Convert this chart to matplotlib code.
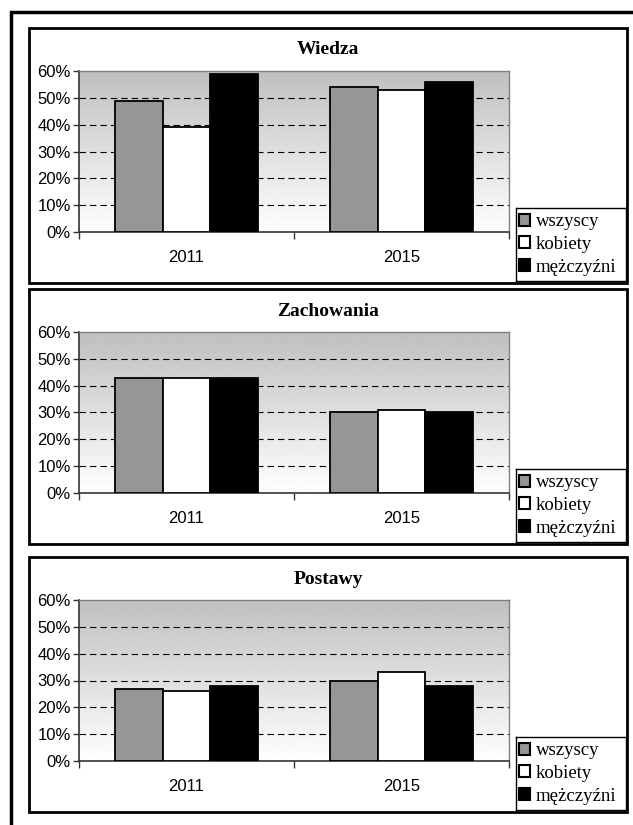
import numpy as np
import matplotlib
matplotlib.use('Agg')
import matplotlib.pyplot as plt
import matplotlib.patches as patches

# Data
years = ['2011', '2015']
series = ['wszyscy', 'kobiety', 'mężczyźni']
colors = ['#969696', '#ffffff', '#000000']
titles = ['Wiedza', 'Zachowania', 'Postawy']

# values per series: [2011, 2015]
wiedza = [[49, 54], [39, 53], [59, 56]]
zachowania = [[43, 30], [43, 31], [43, 30]]
postawy = [[27, 30], [26, 33], [28, 28]]
y_ticks = [0, 10, 20, 30, 40, 50, 60]

W, H = 633, 825


def fig_rect(x0, y0, x1, y1):
    # pixel box (top-left origin) -> figure fraction rect
    return [x0 / W, 1 - y1 / H, (x1 - x0) / W, (y1 - y0) / H]


def draw_panel(fig, top, title, values):
    # Panel border
    fig.add_artist(patches.Rectangle((29 / W, 1 - (top + 255) / H), (627 - 29) / W, 255 / H,
                                     transform=fig.transFigure, fill=False,
                                     linewidth=2, edgecolor='black'))

    fig.text(328 / W, 1 - (top + 22) / H, title, ha='center', va='center',
             family='Liberation Serif', weight='bold', fontsize=14)

    ax = fig.add_axes(fig_rect(79, top + 43, 509, top + 204))

    # Gradient background
    grad = np.linspace(0.75, 1.0, 256).reshape(-1, 1)
    ax.imshow(grad, cmap='gray', vmin=0, vmax=1, aspect='auto',
              extent=[-0.5, 1.5, 0, 60], zorder=0)

    for v in y_ticks[1:-1]:
        ax.axhline(v, color='black', linewidth=0.8, linestyle=(0, (5.8, 3.6)), zorder=1)

    x = np.arange(len(years))
    width = 1 / 4.5
    for i, (name, col) in enumerate(zip(series, colors)):
        ax.bar(x + (i - 1) * width, values[i], width, color=col,
               edgecolor='black', linewidth=1.3, zorder=3)

    ax.set_xlim(-0.5, 1.5)
    ax.set_ylim(0, 60)
    ax.set_yticks(y_ticks)
    ax.set_yticklabels([f'{v}%' for v in y_ticks], family='Liberation Sans', fontsize=12)
    ax.set_xticks(x)
    ax.set_xticklabels(years, family='Liberation Sans', fontsize=12)
    ax.set_xticks([-0.5, 0.5, 1.5], minor=True)
    ax.tick_params(axis='y', direction='out', length=4, width=1, pad=2, color='#333333')
    ax.tick_params(axis='x', which='major', length=0, pad=13)
    ax.tick_params(axis='x', which='minor', direction='out', length=5, width=1, color='#333333')

    for s in ['left', 'bottom']:
        ax.spines[s].set_color('#333333')
        ax.spines[s].set_linewidth(1.2)
    for s in ['top', 'right']:
        ax.spines[s].set_color('#808080')
        ax.spines[s].set_linewidth(1.0)

    # Legend box
    lax = fig.add_axes(fig_rect(516, top + 180, 626, top + 253))
    lax.set_xticks([])
    lax.set_yticks([])
    for s in lax.spines.values():
        s.set_color('black')
        s.set_linewidth(1)
    handles = [patches.Patch(facecolor=c, edgecolor='black', linewidth=1.5) for c in colors]
    lax.legend(handles, series, loc='center left', frameon=False,
               prop={'family': 'Liberation Serif', 'size': 13.5},
               handlelength=0.6, handleheight=0.6, handletextpad=0.3,
               labelspacing=0.3, borderaxespad=0, borderpad=0.15)
    return ax


fig = plt.figure(figsize=(W / 100, H / 100), dpi=100)

# Outer frame (cut off at right and bottom)
fig.add_artist(patches.Rectangle((11 / W, 1 - 845 / H), 640 / W, 833 / H,
                                 transform=fig.transFigure, fill=False,
                                 linewidth=2.5, edgecolor='black'))

panel_tops = [28, 289, 557]
for top, title, vals in zip(panel_tops, titles, [wiedza, zachowania, postawy]):
    draw_panel(fig, top, title, vals)

fig.savefig('out.png', dpi=100)
